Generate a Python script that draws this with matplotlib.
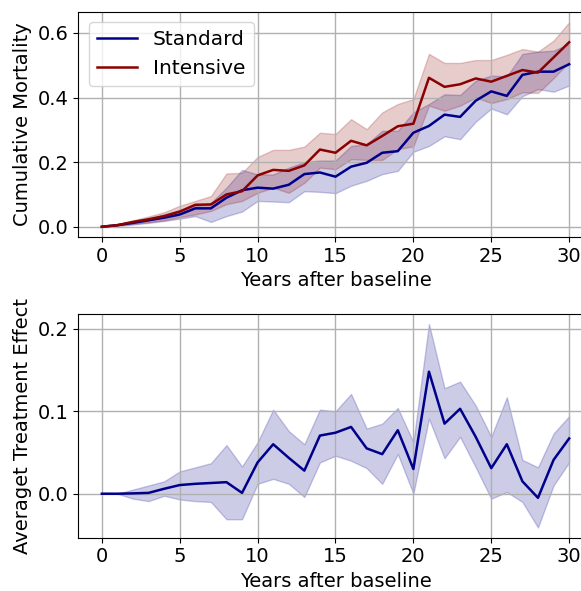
import matplotlib
matplotlib.use('Agg')
import matplotlib.pyplot as plt
import numpy as np

years = np.arange(0, 31)

# cumulative mortality, standard arm
std_mean = [0, 0.005, 0.012, 0.02, 0.028, 0.038, 0.057, 0.057, 0.09, 0.113, 0.121,
            0.118, 0.13, 0.163, 0.168, 0.155, 0.186, 0.198, 0.229, 0.234, 0.291,
            0.312, 0.347, 0.34, 0.39, 0.419, 0.405, 0.47, 0.48, 0.48, 0.503]
std_low = [0, 0.003, 0.007, 0.012, 0.018, 0.025, 0.033, 0.015, 0.033, 0.047, 0.08,
           0.078, 0.076, 0.11, 0.108, 0.104, 0.127, 0.142, 0.163, 0.173, 0.232,
           0.25, 0.28, 0.271, 0.325, 0.366, 0.348, 0.404, 0.426, 0.418, 0.437]
std_high = [0, 0.007, 0.016, 0.027, 0.038, 0.052, 0.064, 0.074, 0.121, 0.176, 0.162,
            0.162, 0.183, 0.2, 0.205, 0.205, 0.25, 0.256, 0.297, 0.297, 0.354,
            0.38, 0.41, 0.408, 0.452, 0.468, 0.465, 0.535, 0.542, 0.545, 0.566]

# cumulative mortality, intensive arm
int_mean = [0, 0.005, 0.015, 0.023, 0.033, 0.047, 0.068, 0.069, 0.1, 0.11, 0.159,
            0.176, 0.173, 0.19, 0.239, 0.229, 0.266, 0.252, 0.281, 0.311, 0.319,
            0.461, 0.433, 0.441, 0.459, 0.449, 0.467, 0.485, 0.477, 0.524, 0.571]
int_low = [0, 0.003, 0.009, 0.014, 0.02, 0.03, 0.038, 0.049, 0.07, 0.08, 0.105,
           0.121, 0.105, 0.136, 0.183, 0.178, 0.209, 0.207, 0.207, 0.24, 0.249,
           0.375, 0.359, 0.375, 0.4, 0.383, 0.395, 0.416, 0.414, 0.46, 0.51]
int_high = [0, 0.008, 0.02, 0.032, 0.045, 0.065, 0.08, 0.095, 0.165, 0.167, 0.216,
            0.238, 0.238, 0.248, 0.291, 0.287, 0.333, 0.302, 0.354, 0.38, 0.395,
            0.535, 0.507, 0.507, 0.516, 0.516, 0.532, 0.55, 0.542, 0.576, 0.633]

# average treatment effect
ate_mean = [0, 0, 0.0004, 0.001, 0.006, 0.0105, 0.012, 0.013, 0.014, 0.001, 0.038,
            0.06, 0.0435, 0.028, 0.0705, 0.074, 0.081, 0.055, 0.048, 0.077, 0.03,
            0.148, 0.085, 0.103, 0.069, 0.031, 0.06, 0.015, -0.005, 0.041, 0.067]
ate_low = [0, 0, -0.006, -0.009, -0.0025, -0.007, -0.009, -0.01, -0.031, -0.031, 0.012,
           0.018, 0.012, -0.004, 0.038, 0.046, 0.04, 0.031, 0.012, 0.048, 0.0,
           0.091, 0.043, 0.069, 0.032, -0.006, 0.002, -0.01, -0.041, 0.01, 0.038]
ate_high = [0, 0, 0.005, 0.01, 0.015, 0.027, 0.032, 0.037, 0.059, 0.033, 0.0625,
            0.102, 0.076, 0.06, 0.102, 0.1, 0.121, 0.079, 0.085, 0.104, 0.0625,
            0.206, 0.128, 0.136, 0.107, 0.069, 0.117, 0.041, 0.032, 0.073, 0.094]

plt.rcParams['font.size'] = 14

fig = plt.figure(figsize=(5.81, 5.91), dpi=100)
ax1 = fig.add_axes([0.1351, 0.599, 0.8847, 0.3807])
ax2 = fig.add_axes([0.1351, 0.0902, 0.8847, 0.379])

ax1.plot(years, std_mean, color='darkblue', lw=1.8, label='Standard')
ax1.fill_between(years, std_low, std_high, color='darkblue', alpha=0.2)
ax1.plot(years, int_mean, color='darkred', lw=1.8, label='Intensive')
ax1.fill_between(years, int_low, int_high, color='darkred', alpha=0.2)
ax1.set_xlabel('Years after baseline')
ax1.set_ylabel('Cumulative Mortality')
ax1.grid(True, lw=1)
ax1.legend(loc='upper left', fontsize=14.5)

ax2.plot(years, ate_mean, color='darkblue', lw=1.8)
ax2.fill_between(years, ate_low, ate_high, color='darkblue', alpha=0.2)
ax2.set_xlabel('Years after baseline')
ax2.set_ylabel('Averaget Treatment Effect')
ax2.grid(True, lw=1)

fig.savefig('out.png', dpi=100)
